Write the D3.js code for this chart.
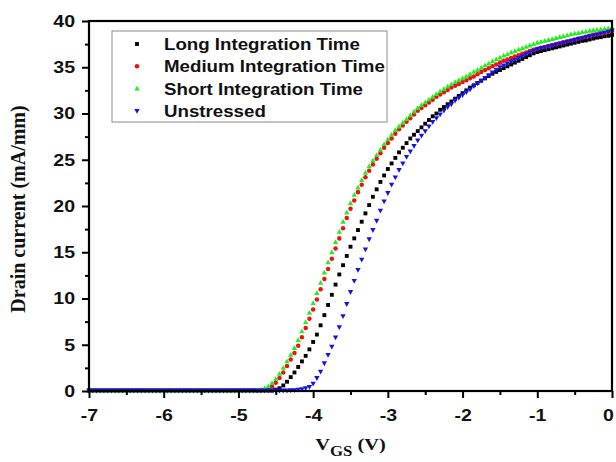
<!DOCTYPE html>
<html>
<head>
<meta charset="utf-8">
<script src="https://cdn.jsdelivr.net/npm/d3@7"></script>
<style>
  body { margin: 0; background: #fff; }
  svg text { fill: #111; }
</style>
</head>
<body>
<svg id="chart" width="616" height="462"></svg>
<script>
// Gate sweep: -7 V to 0 V in 0.05 V steps (141 points per curve)
const vgsStart = -7;
const vgsStep = 0.05;

// Drain current (mA/mm) for each stress condition
const longTime = [
  0.05,0.05,0.05,0.05,0.05,0.05,0.05,0.05,0.05,0.05,
  0.05,0.05,0.05,0.05,0.05,0.05,0.05,0.05,0.05,0.05,
  0.05,0.05,0.05,0.05,0.05,0.05,0.05,0.05,0.05,0.05,
  0.05,0.05,0.05,0.05,0.05,0.05,0.05,0.05,0.05,0.05,
  0.05,0.05,0.05,0.05,0.05,0.05,0.05,0.05,0.05,0.05,
  0.15,0.3,0.6,1.0,1.5,2.0,2.6,3.2,3.8,4.5,
  5.3,6.1,7.1,8.2,9.3,10.4,11.5,12.6,13.6,14.6,
  15.6,16.5,17.4,18.3,19.2,20.1,21.0,21.8,22.6,23.3,
  24.0,24.6,25.2,25.8,26.3,26.8,27.3,27.7,28.1,28.5,
  28.9,29.3,29.7,30.0,30.4,30.7,31.0,31.3,31.6,31.9,
  32.2,32.5,32.8,33.05,33.3,33.55,33.8,34.05,34.3,34.5,
  34.7,34.9,35.1,35.3,35.5,35.7,35.9,36.1,36.3,36.5,
  36.65,36.75,36.85,36.95,37.05,37.15,37.25,37.35,37.45,37.55,
  37.65,37.75,37.85,37.9,38.0,38.1,38.2,38.25,38.35,38.4,
  38.5
];
const mediumTime = [
  0.05,0.05,0.05,0.05,0.05,0.05,0.05,0.05,0.05,0.05,
  0.05,0.05,0.05,0.05,0.05,0.05,0.05,0.05,0.05,0.05,
  0.05,0.05,0.05,0.05,0.05,0.05,0.05,0.05,0.05,0.05,
  0.05,0.05,0.05,0.05,0.05,0.05,0.05,0.05,0.05,0.05,
  0.05,0.05,0.05,0.05,0.05,0.05,0.07,0.1,0.25,0.5,
  0.9,1.4,2.0,2.7,3.4,4.1,4.9,5.8,6.8,7.8,
  8.8,9.9,11.0,12.1,13.2,14.3,15.4,16.5,17.6,18.7,
  19.7,20.6,21.5,22.3,23.1,23.8,24.5,25.1,25.7,26.3,
  26.8,27.3,27.8,28.3,28.7,29.1,29.5,29.9,30.3,30.6,
  30.9,31.2,31.5,31.8,32.05,32.3,32.55,32.8,33.0,33.2,
  33.4,33.6,33.8,34.0,34.25,34.5,34.7,34.9,35.1,35.3,
  35.5,35.7,35.85,36.0,36.15,36.3,36.45,36.6,36.75,36.9,
  37.0,37.1,37.2,37.3,37.4,37.5,37.6,37.7,37.8,37.9,
  38.0,38.1,38.2,38.3,38.4,38.5,38.55,38.65,38.7,38.8,
  38.9
];
const shortTime = [
  0.05,0.05,0.05,0.05,0.05,0.05,0.05,0.05,0.05,0.05,
  0.05,0.05,0.05,0.05,0.05,0.05,0.05,0.05,0.05,0.05,
  0.05,0.05,0.05,0.05,0.05,0.05,0.05,0.05,0.05,0.05,
  0.05,0.05,0.05,0.05,0.05,0.05,0.05,0.05,0.05,0.05,
  0.05,0.05,0.05,0.05,0.05,0.1,0.15,0.3,0.5,0.85,
  1.3,1.85,2.5,3.2,3.9,4.65,5.5,6.45,7.45,8.45,
  9.5,10.6,11.7,12.8,13.9,15.0,16.1,17.2,18.3,19.3,
  20.3,21.2,22.0,22.8,23.6,24.3,24.9,25.5,26.1,26.7,
  27.2,27.7,28.2,28.6,29.0,29.4,29.8,30.2,30.6,30.9,
  31.2,31.5,31.8,32.1,32.4,32.65,32.9,33.15,33.4,33.6,
  33.8,34.0,34.25,34.5,34.7,34.95,35.2,35.4,35.65,35.85,
  36.05,36.25,36.4,36.6,36.75,36.9,37.05,37.2,37.35,37.5,
  37.65,37.75,37.85,37.95,38.05,38.15,38.25,38.35,38.45,38.55,
  38.65,38.7,38.8,38.85,38.95,39.0,39.05,39.1,39.15,39.2,
  39.3
];
const unstressed = [
  0.05,0.05,0.05,0.05,0.05,0.05,0.05,0.05,0.05,0.05,
  0.05,0.05,0.05,0.05,0.05,0.05,0.05,0.05,0.05,0.05,
  0.05,0.05,0.05,0.05,0.05,0.05,0.05,0.05,0.05,0.05,
  0.05,0.05,0.05,0.05,0.05,0.05,0.05,0.05,0.05,0.05,
  0.05,0.05,0.05,0.05,0.05,0.05,0.05,0.05,0.05,0.05,
  0.05,0.05,0.05,0.05,0.08,0.1,0.15,0.2,0.3,0.45,
  0.8,1.4,2.1,3.0,3.9,4.8,5.8,6.9,8.1,9.4,
  10.7,11.9,13.1,14.2,15.3,16.4,17.4,18.4,19.5,20.5,
  21.4,22.3,23.1,23.9,24.6,25.3,25.9,26.5,27.1,27.6,
  28.1,28.6,29.1,29.5,29.9,30.3,30.7,31.0,31.4,31.7,
  32.0,32.3,32.6,32.95,33.25,33.55,33.85,34.15,34.45,34.75,
  35.0,35.2,35.4,35.6,35.8,36.0,36.2,36.4,36.6,36.8,
  36.95,37.05,37.15,37.25,37.35,37.45,37.55,37.65,37.75,37.85,
  37.95,38.05,38.15,38.25,38.35,38.45,38.55,38.65,38.75,38.85,
  38.95
];

const seriesNames = ["Long Integration Time", "Medium Integration Time", "Short Integration Time", "Unstressed"];
const seriesValues = [longTime, mediumTime, shortTime, unstressed];
const seriesColors = ["#000000", "#ee1111", "#22ee22", "#1414e6"];

const xMajorTicks = [-7, -6, -5, -4, -3, -2, -1, 0];
const xMinorTicks = [-6.5, -5.5, -4.5, -3.5, -2.5, -1.5, -0.5];
const yMajorTicks = [0, 5, 10, 15, 20, 25, 30, 35, 40];
const yMinorTicks = [2.5, 7.5, 12.5, 17.5, 22.5, 27.5, 32.5, 37.5];

// Marker shapes per series
const upTriangle = { draw(ctx, size) {
  const s = Math.sqrt(size) * 1.2, h = s * 0.9;
  ctx.moveTo(0, -h * 0.6); ctx.lineTo(s / 2, h * 0.4); ctx.lineTo(-s / 2, h * 0.4); ctx.closePath();
}};
const downTriangle = { draw(ctx, size) {
  const s = Math.sqrt(size) * 1.2, h = s * 0.9;
  ctx.moveTo(0, h * 0.6); ctx.lineTo(s / 2, -h * 0.4); ctx.lineTo(-s / 2, -h * 0.4); ctx.closePath();
}};
const seriesSymbols = [d3.symbolSquare, d3.symbolCircle, upTriangle, downTriangle];
const seriesSizes = [15, 16, 20, 20];

const svg = d3.select("#chart");
const plot = { left: 89, right: 612, top: 21, bottom: 391 };

const x = d3.scaleLinear().domain([-7, 0]).range([plot.left, plot.right]);
const y = d3.scaleLinear().domain([0, 40]).range([plot.bottom, plot.top]);

const tickFont = "'Liberation Sans', Arial, sans-serif";
const titleFont = "'Liberation Serif', 'Times New Roman', serif";
const textWiden = 1.15;   // lettering is set slightly wide

// Data markers, drawn in legend order
const marks = svg.append("g");
seriesValues.forEach((vals, k) => {
  const pts = vals.map((v, i) => ({ vgs: vgsStart + i * vgsStep, id: v }));
  marks.append("g")
    .selectAll("path")
    .data(pts)
    .join("path")
    .attr("transform", d => `translate(${x(d.vgs)},${y(d.id)})`)
    .attr("d", d3.symbol().type(seriesSymbols[k]).size(seriesSizes[k]))
    .attr("fill", seriesColors[k]);
});

// Axes
const majorLen = 7, minorLen = 4;
svg.append("g").attr("class", "x-axis").attr("transform", `translate(0,${plot.bottom})`)
  .call(d3.axisBottom(x).tickValues(xMajorTicks).tickSize(majorLen).tickPadding(11).tickFormat(d => String(d)));
svg.append("g").attr("transform", `translate(0,${plot.bottom})`)
  .call(d3.axisBottom(x).tickValues(xMinorTicks).tickSize(minorLen).tickFormat(""));
svg.append("g").attr("class", "y-axis").attr("transform", `translate(${plot.left},0)`)
  .call(d3.axisLeft(y).tickValues(yMajorTicks).tickSize(majorLen).tickPadding(7).tickFormat(d => String(d)));
svg.append("g").attr("transform", `translate(${plot.left},0)`)
  .call(d3.axisLeft(y).tickValues(yMinorTicks).tickSize(minorLen).tickFormat(""));

svg.selectAll(".domain").remove();
svg.selectAll(".tick line").attr("stroke", "#000").attr("stroke-width", 2);
svg.selectAll(".tick text")
  .attr("font-family", tickFont).attr("font-weight", "bold").attr("font-size", 17)
  .attr("transform", `scale(${textWiden},1)`);
svg.selectAll(".y-axis .tick text").attr("x", -(majorLen + 7) / textWiden);
// keep the right-most label inside the canvas
svg.selectAll(".x-axis .tick text").filter(d => d === 0).attr("x", -4 / textWiden);

// Plot frame
svg.append("rect")
  .attr("x", plot.left).attr("y", plot.top)
  .attr("width", plot.right - plot.left).attr("height", plot.bottom - plot.top)
  .attr("fill", "none").attr("stroke", "#000").attr("stroke-width", 2.2);

// Axis titles
svg.append("text")
  .attr("transform", `translate(25,${(plot.top + plot.bottom) / 2 + 3}) rotate(-90)`)
  .attr("text-anchor", "middle")
  .attr("font-family", titleFont).attr("font-weight", "bold").attr("font-size", 20)
  .text("Drain current (mA/mm)");

const xTitle = svg.append("text")
  .attr("transform", `translate(${(plot.left + plot.right) / 2},450) scale(1.2,1)`)
  .attr("text-anchor", "middle")
  .attr("font-family", titleFont).attr("font-weight", "bold").attr("font-size", 17);
xTitle.append("tspan").text("V");
xTitle.append("tspan").attr("font-size", 14).attr("dy", 6).text("GS");
xTitle.append("tspan").attr("dy", -6).text(" (V)");

// Legend
const legend = svg.append("g");
legend.append("rect")
  .attr("x", 112).attr("y", 31).attr("width", 275).attr("height", 91)
  .attr("fill", "#fff").attr("stroke", "#8a8a8a").attr("stroke-width", 1);
seriesNames.forEach((name, k) => {
  const cy = 44 + k * 22.3;
  legend.append("path")
    .attr("transform", `translate(137,${cy})`)
    .attr("d", d3.symbol().type(seriesSymbols[k]).size(seriesSizes[k]))
    .attr("fill", seriesColors[k]);
  legend.append("text")
    .attr("transform", `translate(164,${cy}) scale(1.1,1)`)
    .attr("dy", "0.36em")
    .attr("font-family", tickFont).attr("font-weight", "bold").attr("font-size", 17)
    .text(name);
});
</script>
</body>
</html>
